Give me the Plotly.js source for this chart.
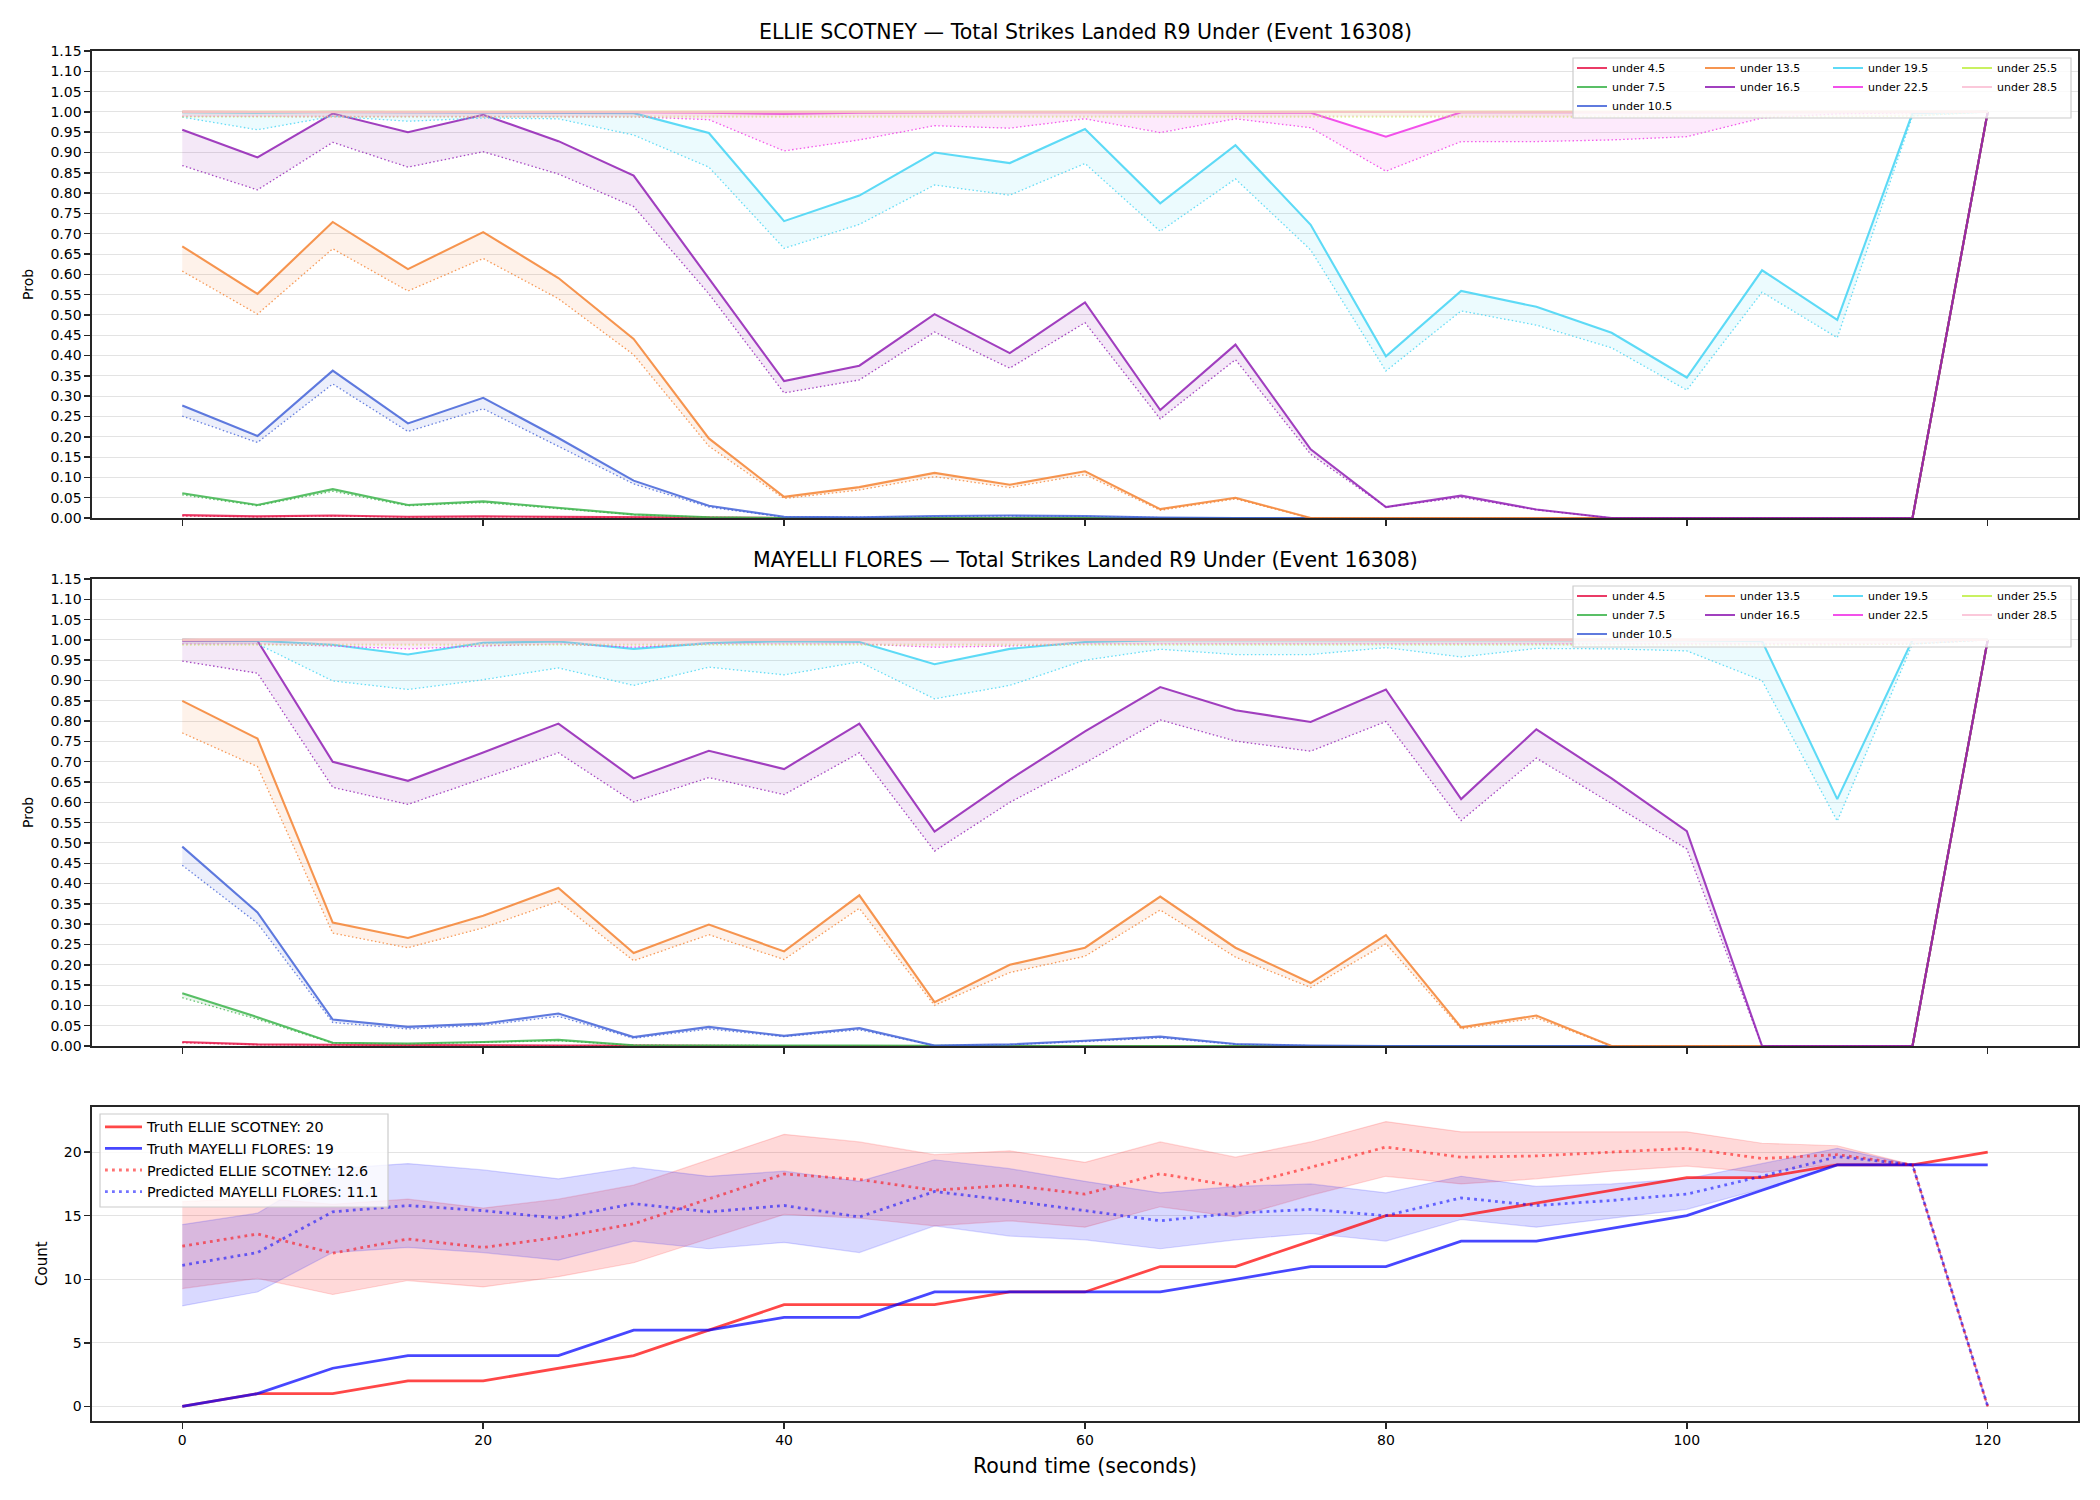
<!DOCTYPE html>
<html>
<head>
<meta charset="utf-8">
<script src="https://cdn.plot.ly/plotly-3.0.1.min.js"></script>
<style>
  html, body { margin: 0; padding: 0; background: #ffffff; }
  #chart { width: 2100px; height: 1500px; }
</style>
</head>
<body>
<div id="chart"></div>
<script>
// ---- Data -------------------------------------------------------------
const roundTime = [0, 5, 10, 15, 20, 25, 30, 35, 40, 45, 50, 55, 60, 65, 70, 75, 80, 85, 90, 95, 100, 105, 110, 115, 120];
const xTickVals = [0, 20, 40, 60, 80, 100, 120];

const thresholdLabels = ['under 4.5', 'under 7.5', 'under 10.5', 'under 13.5', 'under 16.5',
                         'under 19.5', 'under 22.5', 'under 25.5', 'under 28.5'];
const thresholdColors = ['#e6194b', '#3cb44b', '#4363d8', '#f58231', '#911eb4',
                         '#42d4f4', '#f032e6', '#bfef45', '#fabed4'];

// ELLIE SCOTNEY: probability line and lower line per threshold
const scotneyU45     = [0.007, 0.004, 0.006, 0.003, 0.004, 0.003, 0.001, 0, 0, 0, 0, 0, 0, 0, 0, 0, 0, 0, 0, 0, 0, 0, 0, 0, 1.0];
const scotneyU45Low  = [0.005, 0.003, 0.005, 0.002, 0.003, 0.002, 0.001, 0, 0, 0, 0, 0, 0, 0, 0, 0, 0, 0, 0, 0, 0, 0, 0, 0, 1.0];
const scotneyU75     = [0.061, 0.032, 0.071, 0.032, 0.041, 0.025, 0.009, 0.002, 0, 0, 0, 0, 0, 0, 0, 0, 0, 0, 0, 0, 0, 0, 0, 0, 1.0];
const scotneyU75Low  = [0.057, 0.030, 0.066, 0.030, 0.038, 0.023, 0.008, 0.002, 0, 0, 0, 0, 0, 0, 0, 0, 0, 0, 0, 0, 0, 0, 0, 0, 1.0];
const scotneyU105    = [0.277, 0.202, 0.363, 0.233, 0.296, 0.197, 0.092, 0.030, 0.003, 0.002, 0.005, 0.006, 0.005, 0.001, 0, 0, 0, 0, 0, 0, 0, 0, 0, 0, 1.0];
const scotneyU105Low = [0.251, 0.186, 0.330, 0.213, 0.269, 0.177, 0.084, 0.027, 0.002, 0.002, 0.004, 0.005, 0.004, 0.001, 0, 0, 0, 0, 0, 0, 0, 0, 0, 0, 1.0];
const scotneyU135    = [0.669, 0.552, 0.729, 0.613, 0.704, 0.591, 0.441, 0.196, 0.052, 0.076, 0.111, 0.082, 0.115, 0.022, 0.050, 0, 0, 0, 0, 0, 0, 0, 0, 0, 1.0];
const scotneyU135Low = [0.608, 0.502, 0.663, 0.559, 0.639, 0.540, 0.402, 0.177, 0.048, 0.069, 0.102, 0.075, 0.107, 0.019, 0.047, 0, 0, 0, 0, 0, 0, 0, 0, 0, 1.0];
const scotneyU165    = [0.956, 0.888, 0.996, 0.950, 0.993, 0.928, 0.843, 0.590, 0.337, 0.375, 0.502, 0.406, 0.531, 0.266, 0.427, 0.169, 0.027, 0.055, 0.021, 0, 0, 0, 0, 0, 1.0];
const scotneyU165Low = [0.868, 0.808, 0.925, 0.864, 0.902, 0.847, 0.767, 0.552, 0.308, 0.340, 0.458, 0.369, 0.481, 0.244, 0.390, 0.157, 0.027, 0.051, 0.020, 0, 0, 0, 0, 0, 1.0];
const scotneyU195    = [0.999, 0.998, 1.0, 0.999, 0.999, 0.998, 0.997, 0.948, 0.731, 0.794, 0.900, 0.874, 0.958, 0.775, 0.918, 0.722, 0.398, 0.559, 0.520, 0.456, 0.346, 0.610, 0.488, 0.997, 1.0];
const scotneyU195Low = [0.987, 0.956, 0.989, 0.977, 0.985, 0.983, 0.943, 0.864, 0.664, 0.723, 0.820, 0.795, 0.873, 0.706, 0.835, 0.660, 0.362, 0.510, 0.475, 0.419, 0.315, 0.556, 0.444, 0.990, 1.0];
const scotneyU225    = [1.0, 1.0, 1.0, 1.0, 1.0, 1.0, 0.999, 0.998, 0.995, 0.998, 0.999, 0.999, 0.999, 0.999, 0.999, 0.998, 0.939, 0.999, 0.999, 0.999, 0.999, 1.0, 1.0, 1.0, 1.0];
const scotneyU225Low = [0.989, 0.989, 0.989, 0.989, 0.989, 0.989, 0.988, 0.981, 0.904, 0.931, 0.966, 0.960, 0.983, 0.949, 0.983, 0.961, 0.854, 0.927, 0.927, 0.931, 0.939, 0.985, 0.995, 0.998, 1.0];
const scotneyU255    = [1.0, 1.0, 1.0, 1.0, 1.0, 1.0, 1.0, 1.0, 1.0, 1.0, 1.0, 1.0, 1.0, 1.0, 1.0, 1.0, 1.0, 1.0, 1.0, 1.0, 1.0, 1.0, 1.0, 1.0, 1.0];
const scotneyU255Low = [0.988, 0.988, 0.988, 0.988, 0.988, 0.988, 0.988, 0.988, 0.988, 0.988, 0.988, 0.988, 0.988, 0.988, 0.988, 0.988, 0.988, 0.988, 0.988, 0.988, 0.988, 0.988, 0.988, 0.990, 1.0];
const scotneyU285    = [1.0, 1.0, 1.0, 1.0, 1.0, 1.0, 1.0, 1.0, 1.0, 1.0, 1.0, 1.0, 1.0, 1.0, 1.0, 1.0, 1.0, 1.0, 1.0, 1.0, 1.0, 1.0, 1.0, 1.0, 1.0];
const scotneyU285Low = [0.990, 0.990, 0.990, 0.990, 0.990, 0.990, 0.990, 0.990, 0.990, 0.990, 0.990, 0.990, 0.990, 0.990, 0.990, 0.990, 0.990, 0.990, 0.990, 0.990, 0.990, 0.990, 0.990, 0.992, 1.0];

// MAYELLI FLORES: probability line and lower line per threshold
const floresU45     = [0.010, 0.004, 0.003, 0.002, 0.002, 0.001, 0.001, 0, 0, 0, 0, 0, 0, 0, 0, 0, 0, 0, 0, 0, 0, 0, 0, 0, 1.0];
const floresU45Low  = [0.008, 0.003, 0.002, 0.001, 0.001, 0.001, 0, 0, 0, 0, 0, 0, 0, 0, 0, 0, 0, 0, 0, 0, 0, 0, 0, 0, 1.0];
const floresU75     = [0.130, 0.071, 0.008, 0.006, 0.010, 0.015, 0.002, 0.001, 0.001, 0.001, 0, 0, 0, 0, 0, 0, 0, 0, 0, 0, 0, 0, 0, 0, 1.0];
const floresU75Low  = [0.119, 0.066, 0.007, 0.005, 0.009, 0.013, 0.002, 0.001, 0.001, 0.001, 0, 0, 0, 0, 0, 0, 0, 0, 0, 0, 0, 0, 0, 0, 1.0];
const floresU105    = [0.491, 0.329, 0.065, 0.047, 0.055, 0.080, 0.022, 0.047, 0.025, 0.044, 0.001, 0.004, 0.013, 0.023, 0.005, 0.001, 0, 0, 0, 0, 0, 0, 0, 0, 1.0];
const floresU105Low = [0.445, 0.302, 0.058, 0.042, 0.051, 0.073, 0.019, 0.042, 0.023, 0.040, 0.001, 0.003, 0.011, 0.020, 0.004, 0.001, 0, 0, 0, 0, 0, 0, 0, 0, 1.0];
const floresU135    = [0.850, 0.757, 0.304, 0.266, 0.321, 0.389, 0.229, 0.299, 0.233, 0.371, 0.108, 0.200, 0.242, 0.368, 0.242, 0.155, 0.273, 0.046, 0.075, 0, 0, 0, 0, 0, 1.0];
const floresU135Low = [0.771, 0.688, 0.278, 0.242, 0.291, 0.356, 0.210, 0.274, 0.213, 0.339, 0.100, 0.181, 0.221, 0.335, 0.219, 0.144, 0.252, 0.042, 0.069, 0, 0, 0, 0, 0, 1.0];
const floresU165    = [0.998, 0.998, 0.700, 0.653, 0.723, 0.794, 0.659, 0.727, 0.682, 0.794, 0.528, 0.656, 0.775, 0.884, 0.827, 0.798, 0.878, 0.608, 0.780, 0.659, 0.529, 0, 0, 0, 1.0];
const floresU165Low = [0.948, 0.918, 0.637, 0.595, 0.659, 0.722, 0.601, 0.661, 0.619, 0.722, 0.480, 0.600, 0.697, 0.803, 0.751, 0.726, 0.799, 0.555, 0.709, 0.597, 0.485, 0, 0, 0, 1.0];
const floresU195    = [1.0, 0.998, 0.988, 0.964, 0.993, 0.996, 0.978, 0.992, 0.997, 0.995, 0.940, 0.978, 0.995, 0.999, 0.999, 0.999, 0.999, 0.999, 0.999, 0.999, 0.999, 0.997, 0.608, 1.0, 1.0];
const floresU195Low = [0.990, 0.990, 0.899, 0.878, 0.902, 0.931, 0.888, 0.933, 0.914, 0.946, 0.855, 0.888, 0.950, 0.977, 0.964, 0.964, 0.981, 0.958, 0.979, 0.978, 0.973, 0.900, 0.554, 0.990, 1.0];
const floresU225    = [1.0, 1.0, 1.0, 1.0, 1.0, 1.0, 1.0, 1.0, 1.0, 1.0, 1.0, 1.0, 1.0, 1.0, 1.0, 1.0, 1.0, 1.0, 1.0, 1.0, 1.0, 1.0, 1.0, 1.0, 1.0];
const floresU225Low = [0.990, 0.990, 0.985, 0.978, 0.985, 0.990, 0.982, 0.990, 0.990, 0.990, 0.982, 0.985, 0.990, 0.990, 0.990, 0.990, 0.990, 0.990, 0.990, 0.990, 0.990, 0.990, 0.990, 0.990, 1.0];
const floresU255    = [1.0, 1.0, 1.0, 1.0, 1.0, 1.0, 1.0, 1.0, 1.0, 1.0, 1.0, 1.0, 1.0, 1.0, 1.0, 1.0, 1.0, 1.0, 1.0, 1.0, 1.0, 1.0, 1.0, 1.0, 1.0];
const floresU255Low = [0.988, 0.988, 0.988, 0.988, 0.988, 0.988, 0.988, 0.988, 0.988, 0.988, 0.988, 0.988, 0.988, 0.988, 0.988, 0.988, 0.988, 0.988, 0.988, 0.988, 0.988, 0.988, 0.988, 0.990, 1.0];
const floresU285    = [1.0, 1.0, 1.0, 1.0, 1.0, 1.0, 1.0, 1.0, 1.0, 1.0, 1.0, 1.0, 1.0, 1.0, 1.0, 1.0, 1.0, 1.0, 1.0, 1.0, 1.0, 1.0, 1.0, 1.0, 1.0];
const floresU285Low = [0.990, 0.990, 0.990, 0.990, 0.990, 0.990, 0.990, 0.990, 0.990, 0.990, 0.990, 0.990, 0.990, 0.990, 0.990, 0.990, 0.990, 0.990, 0.990, 0.990, 0.990, 0.990, 0.990, 0.992, 1.0];

// Strike counts: truth, prediction and prediction band
const truthScotney   = [0, 1, 1, 2, 2, 3, 4, 6, 8, 8, 8, 9, 9, 11, 11, 13, 15, 15, 16, 17, 18, 18, 19, 19, 20];
const truthFlores    = [0, 1, 3, 4, 4, 4, 6, 6, 7, 7, 9, 9, 9, 9, 10, 11, 11, 13, 13, 14, 15, 17, 19, 19, 19];
const predScotney    = [12.6, 13.56, 12.05, 13.17, 12.5, 13.3, 14.36, 16.3, 18.28, 17.85, 17.0, 17.4, 16.7, 18.3, 17.3, 18.8, 20.4, 19.6, 19.7, 20.0, 20.3, 19.5, 19.8, 19.0, 0];
const predScotneyHi  = [16.1, 16.4, 15.9, 16.3, 15.6, 16.3, 17.4, 19.4, 21.4, 20.8, 19.8, 20.1, 19.2, 20.8, 19.6, 20.8, 22.4, 21.6, 21.6, 21.6, 21.6, 20.7, 20.5, 19.0, 0];
const predScotneyLo  = [9.27, 10.07, 8.8, 9.9, 9.4, 10.2, 11.3, 13.2, 15.1, 14.8, 14.2, 14.6, 14.1, 15.7, 14.9, 16.6, 18.1, 17.5, 17.9, 18.5, 18.9, 18.4, 19.1, 19.0, 0];
const predFlores     = [11.1, 12.1, 15.3, 15.8, 15.4, 14.8, 15.95, 15.3, 15.8, 14.9, 16.9, 16.2, 15.4, 14.6, 15.2, 15.5, 15.0, 16.4, 15.8, 16.2, 16.7, 18.1, 19.65, 19.0, 0];
const predFloresHi   = [14.3, 15.2, 18.7, 19.1, 18.6, 17.9, 18.8, 18.1, 18.5, 17.7, 19.4, 18.7, 17.7, 16.8, 17.3, 17.5, 16.8, 18.1, 17.3, 17.5, 17.9, 19.1, 20.3, 19.0, 0];
const predFloresLo   = [7.9, 9.0, 12.1, 12.5, 12.1, 11.5, 13.0, 12.4, 12.9, 12.1, 14.2, 13.4, 13.1, 12.4, 13.1, 13.6, 13.0, 14.7, 14.1, 14.8, 15.5, 17.1, 19.0, 19.0, 0];

const countTickVals = [0, 5, 10, 15, 20];

// ---- Helpers ----------------------------------------------------------
const FONT = 'DejaVu Sans, Liberation Sans, Arial, sans-serif';
const W = 2100, H = 1500;
const px = v => v / W;          // horizontal pixel -> paper fraction
const py = v => 1 - v / H;      // vertical pixel (from top) -> paper fraction

function rgba(hex, a) {
  const n = parseInt(hex.slice(1), 16);
  return 'rgba(' + ((n >> 16) & 255) + ',' + ((n >> 8) & 255) + ',' + (n & 255) + ',' + a + ')';
}

// legend column for each threshold (4 columns: 3,2,2,2 entries)
const legendColumn = [0, 0, 0, 1, 1, 2, 2, 3, 3];

function thresholdTraces(lines, lows, xa, ya, legendIds) {
  const out = [];
  lines.forEach((line, i) => {
    const c = thresholdColors[i];
    out.push({
      x: roundTime, y: line, xaxis: xa, yaxis: ya, type: 'scatter', mode: 'lines',
      name: thresholdLabels[i], legend: legendIds[legendColumn[i]],
      line: { color: rgba(c, 0.85), width: 2.1 }
    });
    out.push({
      x: roundTime, y: lows[i], xaxis: xa, yaxis: ya, type: 'scatter', mode: 'lines',
      name: thresholdLabels[i] + ' low', showlegend: false,
      line: { color: rgba(c, 0.8), width: 1.3, dash: '1.5px,2.4px' },
      fill: 'tonexty', fillcolor: rgba(c, 0.1)
    });
  });
  return out;
}

const scotneyLines = [scotneyU45, scotneyU75, scotneyU105, scotneyU135, scotneyU165, scotneyU195, scotneyU225, scotneyU255, scotneyU285];
const scotneyLows  = [scotneyU45Low, scotneyU75Low, scotneyU105Low, scotneyU135Low, scotneyU165Low, scotneyU195Low, scotneyU225Low, scotneyU255Low, scotneyU285Low];
const floresLines  = [floresU45, floresU75, floresU105, floresU135, floresU165, floresU195, floresU225, floresU255, floresU285];
const floresLows   = [floresU45Low, floresU75Low, floresU105Low, floresU135Low, floresU165Low, floresU195Low, floresU225Low, floresU255Low, floresU285Low];

const traces = []
  .concat(thresholdTraces(scotneyLines, scotneyLows, 'x', 'y', ['legend', 'legend2', 'legend3', 'legend4']))
  .concat(thresholdTraces(floresLines, floresLows, 'x2', 'y2', ['legend5', 'legend6', 'legend7', 'legend8']));

// prediction bands
function band(lo, hi, r, g, b, name) {
  return [
    { x: roundTime, y: lo, xaxis: 'x3', yaxis: 'y3', type: 'scatter', mode: 'lines', showlegend: false,
      name: name + ' low', line: { color: 'rgba(' + r + ',' + g + ',' + b + ',0.15)', width: 1.2 } },
    { x: roundTime, y: hi, xaxis: 'x3', yaxis: 'y3', type: 'scatter', mode: 'lines', showlegend: false,
      name: name + ' high', line: { color: 'rgba(' + r + ',' + g + ',' + b + ',0.15)', width: 1.2 },
      fill: 'tonexty', fillcolor: 'rgba(' + r + ',' + g + ',' + b + ',0.15)' }
  ];
}
traces.push(...band(predScotneyLo, predScotneyHi, 255, 0, 0, 'ELLIE SCOTNEY band'));
traces.push(...band(predFloresLo, predFloresHi, 0, 0, 255, 'MAYELLI FLORES band'));

traces.push({
  x: roundTime, y: truthScotney, xaxis: 'x3', yaxis: 'y3', type: 'scatter', mode: 'lines',
  name: 'Truth ELLIE SCOTNEY: ' + truthScotney[truthScotney.length - 1], legend: 'legend9',
  line: { color: 'rgba(255,0,0,0.72)', width: 2.8 }
});
traces.push({
  x: roundTime, y: truthFlores, xaxis: 'x3', yaxis: 'y3', type: 'scatter', mode: 'lines',
  name: 'Truth MAYELLI FLORES: ' + truthFlores[truthFlores.length - 1], legend: 'legend9',
  line: { color: 'rgba(0,0,255,0.72)', width: 2.8 }
});
traces.push({
  x: roundTime, y: predScotney, xaxis: 'x3', yaxis: 'y3', type: 'scatter', mode: 'lines',
  name: 'Predicted ELLIE SCOTNEY: ' + predScotney[0].toFixed(1), legend: 'legend9',
  line: { color: 'rgba(255,0,0,0.55)', width: 2.8, dash: '2.8px,4.2px' }
});
traces.push({
  x: roundTime, y: predFlores, xaxis: 'x3', yaxis: 'y3', type: 'scatter', mode: 'lines',
  name: 'Predicted MAYELLI FLORES: ' + predFlores[0].toFixed(1), legend: 'legend9',
  line: { color: 'rgba(0,0,255,0.55)', width: 2.8, dash: '2.8px,4.2px' }
});

// ---- Layout -----------------------------------------------------------
const AX = '#262626';
const xDomain = [px(92), px(2078)];
const xCommon = {
  range: [-6, 126], tickmode: 'array', tickvals: xTickVals, ticks: 'outside', ticklen: 6, tickwidth: 1.5,
  tickcolor: AX, showline: true, linecolor: AX, linewidth: 1.6, mirror: true, showgrid: false, zeroline: false,
  domain: xDomain, tickfont: { family: FONT, size: 14, color: '#000' }
};
const yCommon = {
  ticks: 'outside', ticklen: 6, tickwidth: 1.5, tickcolor: AX, showline: true, linecolor: AX, linewidth: 1.6,
  mirror: true, showgrid: true, gridcolor: '#e3e3e3', gridwidth: 1, zeroline: false,
  tickfont: { family: FONT, size: 14, color: '#000' }
};
const yProb = Object.assign({}, yCommon, { range: [0, 1.15], tickmode: 'linear', tick0: 0, dtick: 0.05, tickformat: '.2f' });

const legendBase = {
  orientation: 'v', bgcolor: 'rgba(0,0,0,0)', borderwidth: 0, xanchor: 'left', yanchor: 'top',
  traceorder: 'normal', tracegroupgap: 0, font: { family: FONT, size: 11, color: '#000' }
};
const colX = [1572, 1700, 1828, 1957];
const layout = {
  width: W, height: H, margin: { l: 0, r: 0, t: 0, b: 0 },
  paper_bgcolor: '#ffffff', plot_bgcolor: '#ffffff', hovermode: false,
  font: { family: FONT, color: '#000' },
  xaxis:  Object.assign({}, xCommon, { anchor: 'y', showticklabels: false }),
  xaxis2: Object.assign({}, xCommon, { anchor: 'y2', showticklabels: false }),
  xaxis3: Object.assign({}, xCommon, { anchor: 'y3', showticklabels: true }),
  yaxis:  Object.assign({}, yProb, { anchor: 'x', domain: [py(518), py(51)] }),
  yaxis2: Object.assign({}, yProb, { anchor: 'x2', domain: [py(1046), py(579)] }),
  yaxis3: Object.assign({}, yCommon, { anchor: 'x3', domain: [py(1421), py(1107)], range: [-1.15, 23.55],
                                       tickmode: 'array', tickvals: countTickVals }),
  shapes: [
    { type: 'rect', xref: 'paper', yref: 'paper', x0: px(1573), x1: px(2071), y0: py(118), y1: py(58),
      line: { color: '#cccccc', width: 1.2 }, fillcolor: 'rgba(255,255,255,0.8)', layer: 'above' },
    { type: 'rect', xref: 'paper', yref: 'paper', x0: px(1573), x1: px(2071), y0: py(647), y1: py(586),
      line: { color: '#cccccc', width: 1.2 }, fillcolor: 'rgba(255,255,255,0.8)', layer: 'above' },
    { type: 'rect', xref: 'paper', yref: 'paper', x0: px(100), x1: px(388), y0: py(1207), y1: py(1114),
      line: { color: '#cccccc', width: 1.2 }, fillcolor: 'rgba(255,255,255,0.8)', layer: 'above' }
  ],
  annotations: [
    { text: 'ELLIE SCOTNEY \u2014 Total Strikes Landed R9 Under (Event 16308)', xref: 'paper', yref: 'paper',
      x: px(1085), y: py(32), xanchor: 'center', yanchor: 'middle', showarrow: false,
      font: { family: FONT, size: 20.5, color: '#000' } },
    { text: 'MAYELLI FLORES \u2014 Total Strikes Landed R9 Under (Event 16308)', xref: 'paper', yref: 'paper',
      x: px(1085), y: py(560), xanchor: 'center', yanchor: 'middle', showarrow: false,
      font: { family: FONT, size: 20.5, color: '#000' } },
    { text: 'Prob', xref: 'paper', yref: 'paper', x: px(28), y: py(285), textangle: -90,
      xanchor: 'center', yanchor: 'middle', showarrow: false, font: { family: FONT, size: 14, color: '#000' } },
    { text: 'Prob', xref: 'paper', yref: 'paper', x: px(28), y: py(813), textangle: -90,
      xanchor: 'center', yanchor: 'middle', showarrow: false, font: { family: FONT, size: 14, color: '#000' } },
    { text: 'Count', xref: 'paper', yref: 'paper', x: px(42), y: py(1264), textangle: -90,
      xanchor: 'center', yanchor: 'middle', showarrow: false, font: { family: FONT, size: 15, color: '#000' } },
    { text: 'Round time (seconds)', xref: 'paper', yref: 'paper', x: px(1085), y: py(1466),
      xanchor: 'center', yanchor: 'middle', showarrow: false, font: { family: FONT, size: 20.5, color: '#000' } }
  ]
};

// four legend columns per probability panel
['legend', 'legend2', 'legend3', 'legend4'].forEach((id, k) => {
  layout[id] = Object.assign({}, legendBase, { x: px(colX[k]), y: py(53.5) });
});
['legend5', 'legend6', 'legend7', 'legend8'].forEach((id, k) => {
  layout[id] = Object.assign({}, legendBase, { x: px(colX[k]), y: py(581.5) });
});
layout.legend9 = Object.assign({}, legendBase, {
  x: px(100), y: py(1111), itemwidth: 37, font: { family: FONT, size: 14.3, color: '#000' }
});

Plotly.newPlot('chart', traces, layout, { staticPlot: true, displayModeBar: false });
</script>
</body>
</html>
